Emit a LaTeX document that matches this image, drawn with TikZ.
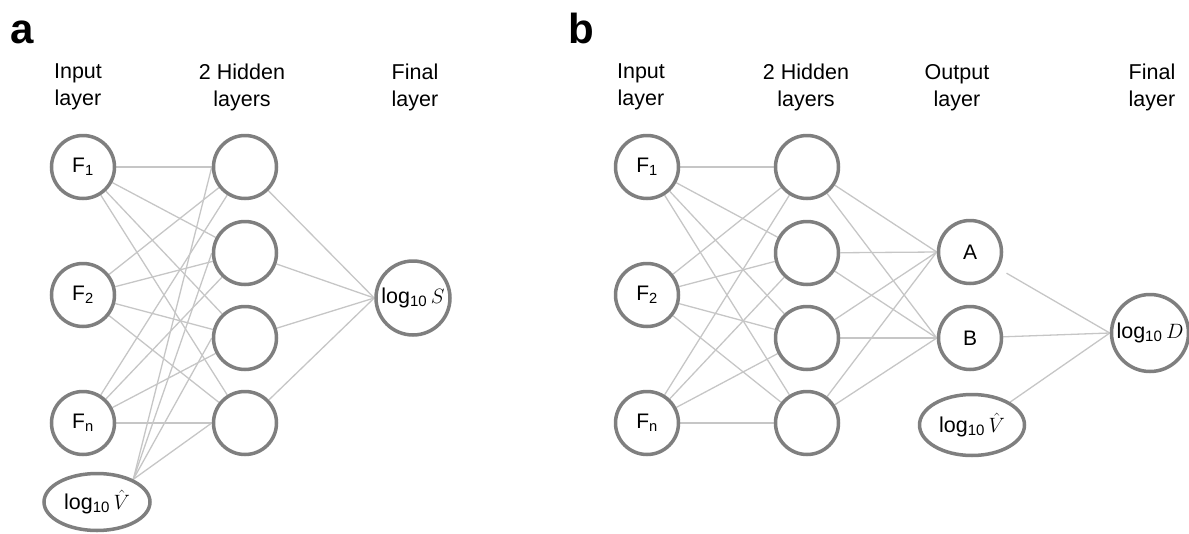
\documentclass[tikz,border=0pt]{standalone}
\usepackage{fontspec}
\setmainfont{Liberation Sans}
\usetikzlibrary{shapes.geometric,backgrounds}
\definecolor{ngray}{HTML}{7F7F7F}
\definecolor{lgray}{HTML}{C6C6C6}
\begin{document}
\begin{tikzpicture}[x=1pt,y=-1pt,
  neuron/.style={circle,draw=ngray,line width=3.5pt,fill=white,minimum size=63pt,inner sep=0pt,font=\fontsize{21}{24}\selectfont},
  bignode/.style={neuron,minimum size=74pt,font=\fontsize{21.5}{24}\selectfont},
  oval/.style={ellipse,draw=ngray,line width=3.5pt,fill=white,minimum width=106pt,minimum height=57pt,inner sep=0pt,font=\fontsize{21.5}{24}\selectfont},
  conn/.style={draw=lgray,line width=1.3pt},
  layerlabel/.style={align=center,anchor=north,inner sep=0pt,font=\fontsize{21.5}{27}\selectfont},
  panel/.style={anchor=base west,inner sep=0pt,font=\fontsize{42}{42}\selectfont\bfseries}]
\useasboundingbox (0,0) rectangle (1189,533);

% panel labels
\node[panel] (pa) at (10,43) {a};
\node[panel] (pb) at (568,43) {b};

% layer labels
\node[layerlabel] (laIn) at (78,64) {Input\\layer};
\node[layerlabel] (laHid) at (242,64) {2 Hidden\\layers};
\node[layerlabel] (laFin) at (415,64) {Final\\layer};
\node[layerlabel] (lbIn) at (641,64) {Input\\layer};
\node[layerlabel] (lbHid) at (806,64) {2 Hidden\\layers};
\node[layerlabel] (lbOut) at (957,64) {Output\\layer};
\node[layerlabel] (lbFin) at (1152,64) {Final\\layer};

% panel a nodes
\node[neuron] (aF1) at (83,167) {F\textsubscript{1}};
\node[neuron] (aF2) at (83,295) {F\textsubscript{2}};
\node[neuron] (aFn) at (83,423) {F\textsubscript{n}};
\node[neuron] (aH1) at (245,167) {};
\node[neuron] (aH2) at (245,253) {};
\node[neuron] (aH3) at (245,338) {};
\node[neuron] (aH4) at (245,423) {};
\node[bignode] (aS) at (413,298) {log\textsubscript{10}\,$S$};
\node[oval] (aV) at (97,502) {log\textsubscript{10}\,$\hat{V}$};

% panel b nodes
\node[neuron] (bF1) at (647,167) {F\textsubscript{1}};
\node[neuron] (bF2) at (647,295) {F\textsubscript{2}};
\node[neuron] (bFn) at (647,423) {F\textsubscript{n}};
\node[neuron] (bH1) at (807,167) {};
\node[neuron] (bH2) at (807,253) {};
\node[neuron] (bH3) at (807,338) {};
\node[neuron] (bH4) at (807,423) {};
\node[neuron] (bA) at (970,252) {A};
\node[neuron] (bB) at (970,338) {B};
\node[oval,minimum width=105pt,minimum height=61pt] (bV) at (972,425) {log\textsubscript{10}\,$\hat{V}$};
\node[bignode,minimum size=77pt] (bD) at (1150,333) {log\textsubscript{10}\,$D$};

\begin{scope}[on background layer]
  \foreach \i in {F1,F2,Fn} {
    \foreach \j in {H1,H2,H3,H4} {
      \draw[conn] (a\i) -- (a\j);
      \draw[conn] (b\i) -- (b\j);
    }
  }
  \foreach \j in {H1,H2,H3,H4} {
    \draw[conn] (aV.32) -- (a\j.west);
    \draw[conn] (a\j) -- (aS.west);
    \draw[conn] (b\j) -- (bA.west);
    \draw[conn] (b\j) -- (bB.west);
  }
  \draw[conn,shorten <=9pt] (bA) -- (bD.west);
  \draw[conn] (bB) -- (bD.west);
  \draw[conn] (bV.31) -- (bD.west);
\end{scope}
\end{tikzpicture}
\end{document}
